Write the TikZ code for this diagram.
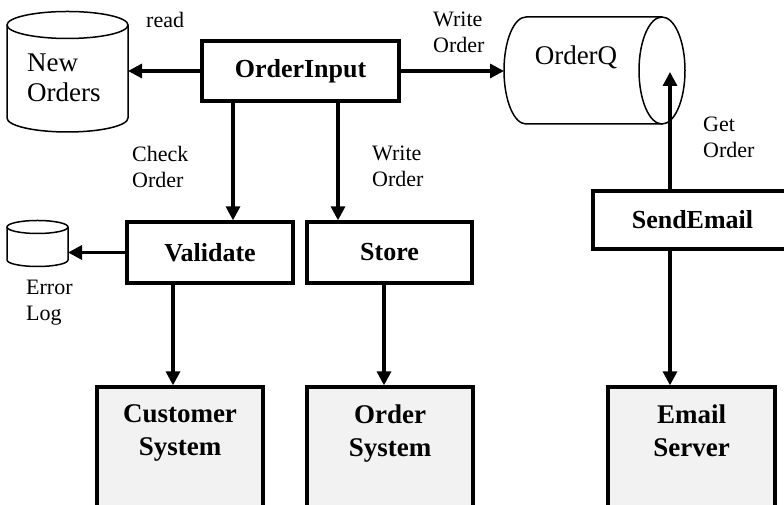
\documentclass[tikz,border=0pt]{standalone}
\usepackage{fontspec}
\setmainfont{Liberation Serif}
\usetikzlibrary{arrows.meta}
\definecolor{sysgray}{HTML}{F2F2F2}
\begin{document}
\begin{tikzpicture}[x=1pt,y=1pt,
  box/.style={draw, line width=3.3pt, rectangle, inner sep=0pt, fill=white,
    font=\fontsize{26}{30}\selectfont\bfseries},
  sysbox/.style={draw, line width=3.3pt, rectangle, fill=sysgray, inner sep=0pt,
    minimum width=166pt, minimum height=143pt},
  systext/.style={font=\fontsize{27}{33}\selectfont\bfseries, align=center, inner sep=0pt},
  lbl/.style={font=\fontsize{22}{26}\selectfont, align=left, anchor=west, inner sep=0pt},
  arr/.style={line width=3.2pt, -{Triangle[length=14pt,width=14pt]}},
  cyl/.style={line width=1.5pt}
]
\useasboundingbox (0,0) rectangle (784,505);
\clip (0,0) rectangle (784,505);

% cylinders
\draw[cyl] (7,480) -- (7,387) arc[start angle=180,end angle=360,x radius=60.5,y radius=14] -- (128,480);
\draw[cyl] (67.5,480) ellipse[x radius=60.5, y radius=13.5];
\node[font=\fontsize{27}{30}\selectfont, align=left, anchor=west, inner sep=0pt] (notxt) at (27,427) {New\\Orders};
\coordinate (noE) at (128,434);

\draw[cyl] (7,278) -- (7,245) arc[start angle=180,end angle=360,x radius=30.5,y radius=6.5] -- (68,278);
\draw[cyl] (37.5,278) ellipse[x radius=30.5, y radius=6.5];
\coordinate (elE) at (68,252.5);

\draw[cyl] (662,488) -- (526,488) arc[start angle=90,end angle=270,x radius=22,y radius=53.5] -- (662,381);
\draw[cyl] (662,434.5) ellipse[x radius=23, y radius=53.5];
\node[font=\fontsize{27}{30}\selectfont, inner sep=0pt] (oqtxt) at (576,448) {OrderQ};
\coordinate (oqW) at (504,434);
\coordinate (oqIn) at (670,433);

% process boxes
\node[box, minimum width=197pt, minimum height=60pt] (oi) at (300.5,434) {OrderInput};
\node[box, minimum width=166pt, minimum height=61pt] (val) at (210,252.5) {Validate};
\node[box, minimum width=165pt, minimum height=61pt] (sto) at (389.5,252.5) {Store};
\node[box, minimum width=199pt, minimum height=58pt] (se) at (692.5,285) {SendEmail};

% system boxes
\node[sysbox, label={[systext, anchor=north, yshift=-19pt]north:Customer\\System}] (cus) at (180,46.5) {};
\node[sysbox, label={[systext, anchor=north, yshift=-19pt]north:Order\\System}] (ord) at (390,46.5) {};
\node[sysbox, minimum width=167pt, label={[systext, anchor=north, yshift=-19pt]north:Email\\Server}] (ems) at (691.5,46.5) {};

% connectors
\draw[arr] (oi.west) -- (noE);
\draw[arr] (oi.east) -- (oqW);
\draw[arr] ([xshift=-67.5pt]oi.south) -- ([xshift=-67.5pt]oi.south |- val.north);
\draw[arr] ([xshift=37.5pt]oi.south) -- ([xshift=37.5pt]oi.south |- sto.north);
\draw[arr] (val.west) -- (elE);
\draw[arr] ([xshift=-37pt]val.south) -- ([xshift=-37pt]val.south |- cus.north);
\draw[arr] ([xshift=-5.5pt]sto.south) -- ([xshift=-5.5pt]sto.south |- ord.north);
\draw[arr] ([xshift=-22.5pt]se.north) -- (oqIn);
\draw[arr] ([xshift=-22.5pt]se.south) -- ([xshift=-22.5pt]se.south |- ems.north);

% labels
\node[lbl] (lread) at (146,485) {read};
\node[lbl] (lwo1) at (433,473) {Write\\Order};
\node[lbl] (lco) at (132,338.5) {Check\\Order};
\node[lbl] (lwo2) at (372,338.5) {Write\\Order};
\node[lbl] (lgo) at (703,367.5) {Get\\Order};
\node[lbl] (lel) at (26,202.5) {Error\\Log};
\end{tikzpicture}
\end{document}
